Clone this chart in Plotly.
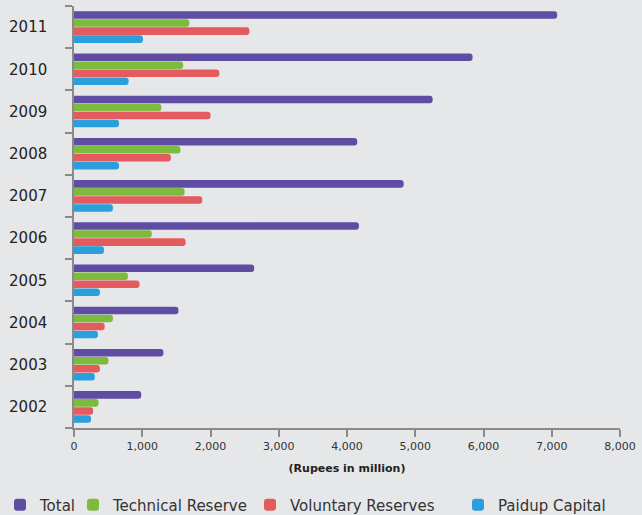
import plotly.graph_objects as go

years = ["2002", "2003", "2004", "2005", "2006", "2007", "2008", "2009", "2010", "2011"]
total = [985, 1310, 1530, 2640, 4175, 4830, 4150, 5255, 5840, 7080]
technical = [360, 505, 570, 790, 1140, 1620, 1560, 1280, 1600, 1690]
voluntary = [280, 380, 450, 960, 1635, 1880, 1420, 2000, 2130, 2570]
paidup = [250, 305, 350, 380, 440, 570, 660, 660, 800, 1010]

series = [
    ("Paidup Capital", paidup, "#2b9fdc", "legend4", 458),
    ("Voluntary Reserves", voluntary, "#e35a5f", "legend3", 250),
    ("Technical Reserve", technical, "#7dbb3f", "legend2", 73),
    ("Total", total, "#5f4ca3", "legend", 0),
]

fig = go.Figure()
legends = {}
for name, vals, col, lg, lx in series:
    fig.add_trace(go.Bar(
        y=years, x=vals, name=name, orientation="h", legend=lg,
        marker=dict(color=col, line=dict(color=col, width=0), cornerradius="50%"),
    ))
    legends[lg] = dict(orientation="h", xref="container", yref="container",
                       x=lx / 642, y=1 - 505 / 515, xanchor="left", yanchor="middle",
                       font=dict(size=15, color="#333333", family="DejaVu Sans"),
                       bgcolor="rgba(0,0,0,0)")

fig.update_layout(
    width=642, height=515,
    margin=dict(l=74, r=20, t=6, b=87),
    paper_bgcolor="#e6e7e9", plot_bgcolor="#e6e7e9",
    barmode="group", bargap=0.24, bargroupgap=0.06,
    font=dict(family="DejaVu Sans", color="#333333"),
    showlegend=True,
    xaxis=dict(range=[0, 8000], dtick=1000, tickformat=",d", showgrid=False,
               showline=True, linecolor="#8a8a8a", linewidth=1.5,
               ticks="outside", ticklen=7, tickcolor="#8a8a8a", tickwidth=1.5,
               tickfont=dict(size=11, color="#333333"), zeroline=False,
               title=dict(text="<b>(Rupees in million)</b>", font=dict(size=11, color="#222222"),
                          standoff=12)),
    yaxis=dict(type="category", showgrid=False, showline=True, linecolor="#8a8a8a", linewidth=1.5,
               ticks="outside", ticklen=7, tickcolor="#8a8a8a", tickwidth=1.5, tickson="boundaries",
               tickfont=dict(size=15, color="#222222"), ticklabelstandoff=22),
    **legends,
)

fig.write_html("out.html")
